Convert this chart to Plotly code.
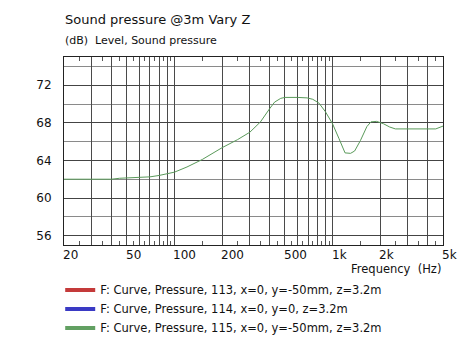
import math
import plotly.graph_objects as go

# ---- data ----
freq_hz = [20, 30, 40, 45, 60, 70, 80, 90, 100, 120, 150, 200, 250, 300, 350, 400,
           430, 470, 500, 600, 690, 750, 820, 900, 1000, 1100, 1200, 1300, 1380,
           1500, 1650, 1750, 1900, 2100, 2300, 2500, 3000, 4500, 5000]
spl_db = [62.0, 62.0, 62.0, 62.1, 62.15, 62.25, 62.4, 62.55, 62.75, 63.3, 64.1, 65.35,
          66.2, 67.0, 68.1, 69.5, 70.2, 70.6, 70.7, 70.7, 70.65, 70.5, 70.1, 69.2,
          67.9, 66.3, 64.8, 64.75, 65.0, 66.1, 67.6, 68.1, 68.15, 67.9, 67.55, 67.35,
          67.35, 67.35, 67.65]

legend_names = ["F: Curve, Pressure, 113, x=0, y=-50mm, z=3.2m",
                "F: Curve, Pressure, 114, x=0, y=0, z=3.2m",
                "F: Curve, Pressure, 115, x=0, y=-50mm, z=3.2m"]
legend_colors = ["#c43a3a", "#3a3ac4", "#62a062"]

x_grid = [20, 30, 40, 50, 60, 70, 80, 90, 100, 200, 300, 400, 500, 600, 700, 800,
          900, 1000, 2000, 3000, 4000, 5000]
x_label_vals = [20, 50, 100, 200, 500, 1000, 2000, 5000]
x_label_text = ["20", "50", "100", "200", "500", "1k", "2k", "5k"]
x_minor = [25, 35, 45, 55, 65, 75, 85, 95, 150, 250, 350, 450, 550, 650, 750, 850,
           950, 1500, 2500, 3500, 4500]
y_major = [56, 60, 64, 68, 72]

FONT = "DejaVu Sans"
xr = [math.log10(20), math.log10(5000)]

fig = go.Figure()
fig.add_trace(go.Scatter(x=freq_hz, y=spl_db, mode="lines",
                         line=dict(color="#5a9a5a", width=1),
                         showlegend=False, hoverinfo="skip"))
# carrier trace so the minor-tick overlay axis is rendered
fig.add_trace(go.Scatter(x=[None], y=[None], xaxis="x2", mode="lines",
                         showlegend=False, hoverinfo="skip"))
for name, col in zip(legend_names, legend_colors):
    fig.add_trace(go.Scatter(x=[None], y=[None], mode="lines", name=name,
                             line=dict(color=col, width=4)))

annotations = [
    dict(text="Sound pressure @3m Vary Z", x=-0.003, y=1.197, xref="paper", yref="paper",
         xanchor="left", yanchor="middle", showarrow=False,
         font=dict(family=FONT, size=13, color="#111")),
    dict(text="(dB)\u00a0\u00a0Level, Sound pressure", x=-0.003, y=1.090, xref="paper",
         yref="paper", xanchor="left", yanchor="middle", showarrow=False,
         font=dict(family=FONT, size=11, color="#111")),
    dict(text="Frequency\u00a0\u00a0(Hz)", x=1, y=-0.128, xref="paper", yref="paper",
         xanchor="right", yanchor="middle", showarrow=False,
         font=dict(family=FONT, size=11.5, color="#111")),
]
for v, t in zip(x_label_vals, x_label_text):
    annotations.append(dict(text=t, x=math.log10(v), y=-0.053, xref="x", yref="paper",
                            xanchor="left", yanchor="middle", showarrow=False,
                            xshift=-3,
                            font=dict(family=FONT, size=12, color="#111")))

fig.update_layout(
    width=466, height=361,
    margin=dict(l=64, r=23, t=57, b=116),
    paper_bgcolor="white", plot_bgcolor="white",
    font=dict(family=FONT, size=12, color="#111"),
    xaxis=dict(type="log", range=xr, tickvals=x_grid, showticklabels=False,
               showgrid=True, gridcolor="#4a4a4a", gridwidth=1,
               showline=True, linecolor="#222", linewidth=1, mirror=True,
               ticks="", zeroline=False),
    xaxis2=dict(type="log", range=xr, overlaying="x", anchor="y", side="bottom",
                tickvals=x_minor, showticklabels=False, ticks="inside", ticklen=4,
                tickcolor="#555", mirror="ticks", showgrid=False, showline=False,
                zeroline=False),
    yaxis=dict(range=[55, 75], tickvals=y_major, showgrid=True, gridcolor="#444444",
               gridwidth=1, showline=True, linecolor="#222", linewidth=1, mirror=True,
               ticks="", ticklabelstandoff=9, zeroline=False,
               minor=dict(dtick=2, tick0=54, showgrid=True, gridcolor="#8a8a8a",
                          gridwidth=1),
               tickfont=dict(family=FONT, size=12, color="#111")),
    legend=dict(x=-0.01, y=-0.162, xanchor="left", yanchor="top",
                font=dict(family=FONT, size=11.5, color="#111"),
                bgcolor="rgba(0,0,0,0)", itemwidth=30, tracegroupgap=0),
    annotations=annotations,
    showlegend=True,
)

fig.write_html("out.html")
